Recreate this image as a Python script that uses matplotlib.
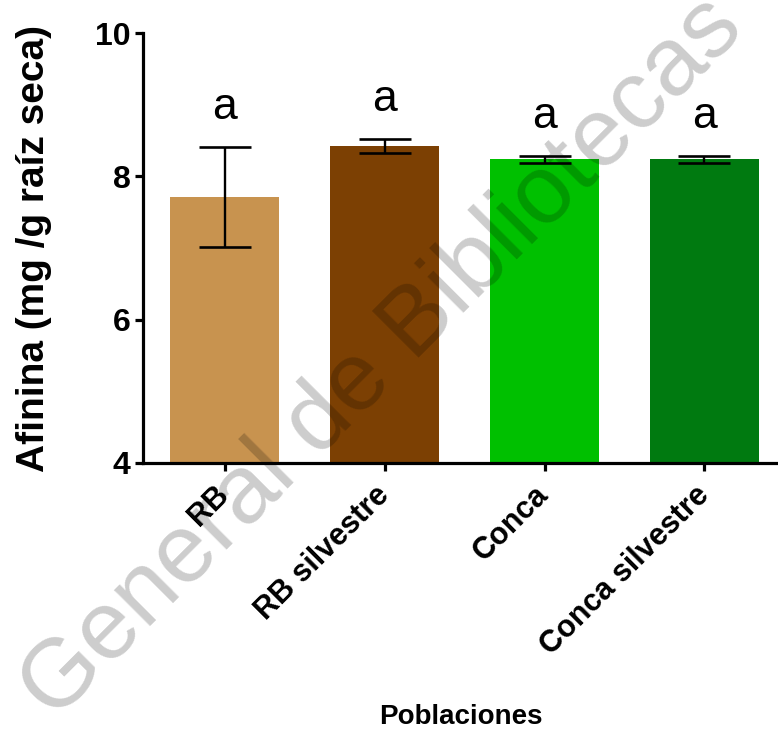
import matplotlib
matplotlib.use("Agg")
import matplotlib.pyplot as plt
import numpy as np

# data
poblaciones = ["RB", "RB silvestre", "Conca", "Conca silvestre"]
afinina = [7.71, 8.42, 8.24, 8.24]
sem = [0.70, 0.10, 0.05, 0.05]
letras = ["a", "a", "a", "a"]
colores = ["#C8934F", "#7C4003", "#00C000", "#007A10"]

plt.rcParams['font.family'] = ['Liberation Sans', 'DejaVu Sans']

fig = plt.figure(figsize=(7.78, 7.36), dpi=100)
ax = fig.add_axes([0.184, 0.371, 0.816, 0.584])

x = np.arange(len(poblaciones))
ax.bar(x, np.array(afinina) - 4, bottom=4, width=0.68, color=colores, zorder=2)
ax.errorbar(x, afinina, yerr=sem, fmt='none', ecolor='black', elinewidth=1.7,
            capsize=19, capthick=1.9, zorder=3)

for xi, m, s, l in zip(x, afinina, sem, letras):
    ax.text(xi, m + s + 0.39, l, ha='center', va='baseline', fontsize=32)

ax.set_xlim(-0.51, 3.46)
ax.set_ylim(4, 10)
ax.set_yticks([4, 6, 8, 10])
ax.set_xticks(x)
ax.set_xticklabels(poblaciones, rotation=45, ha='right', va='center',
                   rotation_mode='anchor', fontsize=22, fontweight='bold')
for lab in ax.get_yticklabels():
    lab.set_fontsize(23)
    lab.set_fontweight('bold')

ax.spines['top'].set_visible(False)
ax.spines['right'].set_visible(False)
ax.spines['left'].set_linewidth(2.3)
ax.spines['bottom'].set_linewidth(2.3)
ax.tick_params(axis='both', width=2.3, length=6, color='black')
ax.tick_params(axis='x', pad=14)
ax.tick_params(axis='y', pad=3)

ax.set_ylabel("Afinina (mg /g raíz seca)", fontsize=28, fontweight='bold', labelpad=31)
ax.set_xlabel("Poblaciones", fontsize=20, fontweight='bold', labelpad=31)

# watermark
fig.text(0.492, 0.512, "General de Bibliotecas", rotation=45,
         ha='center', va='center', fontsize=70, color='black', alpha=0.2,
         zorder=10)

fig.savefig("out.png", dpi=100)
